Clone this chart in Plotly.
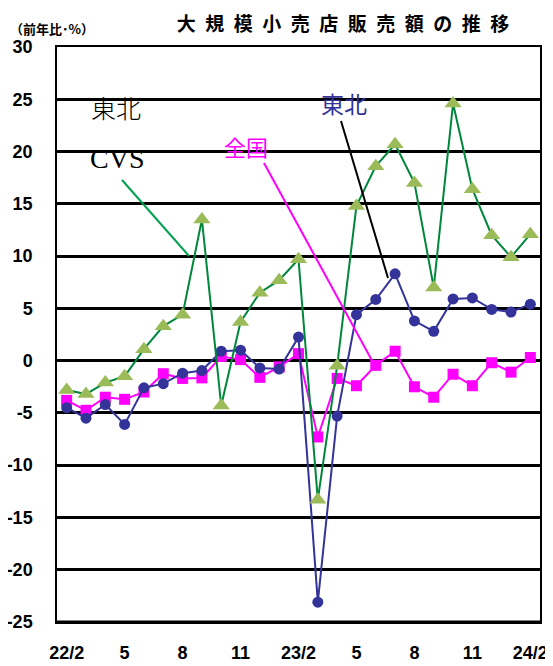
import plotly.graph_objects as go

months = ["22/2", "22/3", "22/4", "22/5", "22/6", "22/7", "22/8", "22/9", "22/10", "22/11", "22/12",
          "23/1", "23/2", "23/3", "23/4", "23/5", "23/6", "23/7", "23/8", "23/9", "23/10", "23/11",
          "23/12", "24/1", "24/2"]
x_tick_months = ["22/2", "22/5", "22/8", "22/11", "23/2", "23/5", "23/8", "23/11", "24/2"]
x_tick_text = ["22/2", "5", "8", "11", "23/2", "5", "8", "11", "24/2"]
y_tick_vals = [-25, -20, -15, -10, -5, 0, 5, 10, 15, 20, 25, 30]
y_tick_text = ["-25", "-20", "-15", "-10", "-5", "0", "5", "10", "15", "20", "25", "30"]

cvs = [-2.8, -3.2, -2.1, -1.5, 1.1, 3.3, 4.4, 13.5, -4.3, 3.7, 6.5, 7.7, 9.7,
       -13.3, -0.5, 14.8, 18.6, 20.7, 17.0, 7.0, 24.6, 16.4, 12.0, 9.9, 12.1]
tohoku = [-4.5, -5.5, -4.2, -6.1, -2.6, -2.2, -1.2, -0.95, 0.9, 1.0, -0.7, -0.8, 2.25,
          -23.1, -5.3, 4.4, 5.85, 8.3, 3.8, 2.8, 5.9, 6.0, 4.9, 4.65, 5.4]
zenkoku = [-3.8, -4.75, -3.5, -3.7, -3.0, -1.25, -1.7, -1.65, 0.4, 0.1, -1.6, -0.6, 0.67,
           -7.3, -1.7, -2.4, -0.45, 0.9, -2.5, -3.5, -1.3, -2.4, -0.2, -1.1, 0.3]

# the page body has an 8px default margin; work in window pixels and subtract it
OFF = 8
WIN_W, WIN_H = 553, 666
W, H = WIN_W - OFF, WIN_H - OFF
L, R, T, B = 57 - OFF, 540 - OFF, 47 - OFF, 622 - OFF


def px(xp):
    return (xp - OFF - L) / (R - L)


def py(yp):
    return (B - (yp - OFF)) / (B - T)


JP = "Noto Sans CJK JP"

fig = go.Figure()
fig.add_trace(go.Scatter(x=months, y=zenkoku, mode="lines+markers", name="全国",
                         line=dict(color="#FF00FF", width=2),
                         marker=dict(symbol="square", size=11, color="#FF00FF")))
fig.add_trace(go.Scatter(x=months, y=tohoku, mode="lines+markers", name="東北",
                         line=dict(color="#333399", width=2),
                         marker=dict(symbol="circle", size=11, color="#333399")))
fig.add_trace(go.Scatter(x=months, y=cvs, mode="lines+markers", name="東北CVS",
                         line=dict(color="#00873C", width=2),
                         marker=dict(symbol="triangle-up", size=15, color="#9BBB59")))

shapes = [
    # white box behind legend text
    dict(type="rect", xref="paper", yref="paper", x0=px(83), x1=px(188), y0=py(172), y1=py(88),
         fillcolor="white", line=dict(width=0), layer="between"),
    # bottom thick line
    dict(type="line", xref="paper", yref="paper", x0=0, x1=1, y0=0, y1=0,
         line=dict(color="black", width=3), layer="between"),
    # callout lines
    dict(type="line", xref="paper", yref="paper", x0=px(122), y0=py(180), x1=px(189), y1=py(256),
         line=dict(color="#00A050", width=2), layer="above"),
    dict(type="line", xref="paper", yref="paper", x0=px(264), y0=py(163), x1=px(375), y1=py(366),
         line=dict(color="#FF00FF", width=2), layer="above"),
    dict(type="line", xref="paper", yref="paper", x0=px(341), y0=py(121), x1=px(388), y1=py(278),
         line=dict(color="black", width=2), layer="above"),
]

annotations = [
    dict(text="（前年比･%）", xref="paper", yref="paper", x=px(52), y=py(28), showarrow=False,
         font=dict(family=JP, size=13, color="black", weight="bold"), xanchor="center", yanchor="middle"),
    dict(text="東北", xref="paper", yref="paper", x=px(116), y=py(107), showarrow=False,
         font=dict(family=JP, size=25, color="black", weight=300), xanchor="center", yanchor="middle"),
    dict(text="CVS", xref="paper", yref="paper", x=px(117), y=py(158), showarrow=False,
         font=dict(family="Liberation Serif", size=28, color="black"), xanchor="center", yanchor="middle"),
    dict(text="全国", xref="paper", yref="paper", x=px(246), y=py(146), showarrow=False,
         font=dict(family=JP, size=22, color="#FF00FF"), xanchor="center", yanchor="middle"),
    dict(text="東北", xref="paper", yref="paper", x=px(344), y=py(103), showarrow=False,
         font=dict(family=JP, size=23, color="#333399"), xanchor="center", yanchor="middle"),
]

title_text = "\u2002".join(list("大規模小売店販売額の推移"))

fig.update_layout(
    width=W, height=H,
    margin=dict(l=L, r=W - R, t=T, b=H - B, pad=0, autoexpand=False),
    paper_bgcolor="white", plot_bgcolor="white",
    showlegend=False,
    title=dict(text=title_text, x=(343 - OFF) / W, y=1 - (24 - OFF) / H, xanchor="center", yanchor="middle",
               font=dict(family=JP, size=19, color="black", weight="bold")),
    shapes=shapes,
    annotations=annotations,
    hovermode=False,
)
fig.update_xaxes(type="category", categoryorder="array", categoryarray=months,
                 range=[-0.5, len(months) - 0.5], automargin=False,
                 tickmode="array", tickvals=x_tick_months, ticktext=x_tick_text,
                 ticks="", ticklabelstandoff=14, showgrid=False, zeroline=False,
                 showline=True, mirror=True, linecolor="black", linewidth=1.5,
                 tickfont=dict(family="Liberation Sans", size=18, color="black", weight="bold"))
fig.update_yaxes(range=[-25, 30], tickmode="array", tickvals=y_tick_vals, ticktext=y_tick_text,
                 automargin=False,
                 ticks="", ticklabelstandoff=19, showgrid=True, gridcolor="black", gridwidth=2.5,
                 zeroline=False, showline=True, mirror=True, linecolor="black", linewidth=1.5,
                 tickfont=dict(family="Liberation Sans", size=18, color="black", weight="bold"))

fig.write_html("out.html")
